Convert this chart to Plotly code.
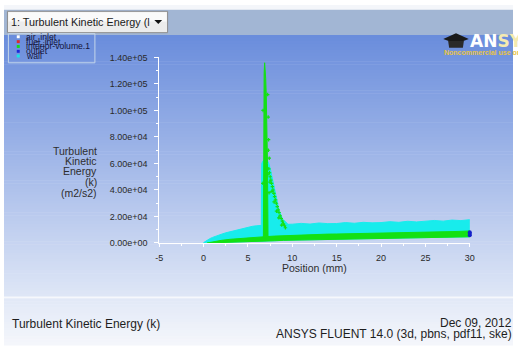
import plotly.graph_objects as go

# ---------------- data ----------------
x_tick_vals = [-5, 0, 5, 10, 15, 20, 25, 30]
x_tick_text = ["-5", "0", "5", "10", "15", "20", "25", "30"]
y_tick_vals = [0, 20000, 40000, 60000, 80000, 100000, 120000, 140000]
y_tick_text = ["0.00e+00", "2.00e+04", "4.00e+04", "6.00e+04", "8.00e+04",
               "1.00e+05", "1.20e+05", "1.40e+05"]

# wall zone (cyan) – envelope of the main point cloud
wall_x = [0.0, 0.3, 0.7, 1.0, 1.5, 2.0, 2.5, 3.0, 3.5, 4.0, 4.5, 5.0, 5.5, 6.0, 6.5, 7.0,
          7.5, 8.0, 8.5, 9.0, 9.5, 10.0,
          11, 12, 13, 14, 15, 16, 17, 18, 19, 20, 21, 22, 23, 24, 25, 26, 27, 28, 29, 30]
wall_upper = [300, 1800, 3300, 4200, 5600, 6600, 7700, 8500, 9600, 10500, 11300, 12000, 12600, 13000,
              13400, 13600, 13800, 14000, 13900, 14200, 14100, 14200,
              14800, 14300, 15100, 14600, 14700, 15400, 14900, 15600, 15200, 15400, 16100, 15600, 16400,
              15900, 16400, 17000, 16500, 17300, 16900, 17600]
wall_lower = [0, 0, 0, 0, 0, 0, 400, 600, 700, 800, 900, 1000, 1100, 1200, 1300, 1400,
              1500, 1700, 1800, 1900, 2100, 2200,
              2400, 2500, 2700, 2800, 3000, 3100, 3200, 3300, 3500, 3600, 3700, 3800, 3900, 4100, 4200,
              4300, 4400, 4500, 4600, 4700]

# wall zone spike outline
wall_spike_x = [6.45, 6.5, 6.52, 6.55, 6.7, 7.0, 7.2, 7.35, 7.55, 7.85, 8.15, 8.5, 8.9, 9.4, 9.8, 6.45]
wall_spike_k = [8000, 14000, 40000, 60000, 62000, 63000, 62000, 60000, 55000, 45000, 35000, 25000,
                18000, 15000, 10000, 8000]

# interior-volume.1 zone (green) – lower band envelope
volume_x = [0.4, 1, 2, 3, 4, 5, 6, 7, 8, 9, 10, 11, 12, 13, 14, 15, 16, 17, 18, 19, 20,
            21, 22, 23, 24, 25, 26, 27, 28, 29, 30]
volume_upper = [0, 800, 2000, 2800, 3400, 3900, 4300, 4800, 5200, 5500, 5900, 6000, 6300, 6400, 6700,
                6800, 6900, 7000, 7200, 7200, 7400, 7500, 7700, 7800, 8000, 8100, 8300, 8400, 8600, 8800, 9100]
volume_lower = [0, 0, 300, 600, 800, 1000, 1200, 1500, 1700, 2000, 2200, 2400, 2500, 2700, 2800,
                3000, 3100, 3200, 3300, 3500, 3600, 3700, 3800, 3900, 4100, 4200, 4300, 4400, 4500, 4600, 4700]

# interior-volume.1 spike outline
spike_x = [6.74, 6.75, 6.76, 6.77, 6.78, 6.82, 6.88, 6.94, 7.0, 7.06, 7.12, 7.16, 7.2, 7.22,
           7.25, 7.26, 6.74]
spike_k = [4000, 30000, 60000, 90000, 115000, 128000, 136000, 132000, 124000, 112000, 95000,
           80000, 60000, 40000, 20000, 4000, 4000]

# interior-volume.1 scattered points right of the spike
tail_x = [7.35, 7.42, 7.5, 7.58, 7.66, 7.75, 7.83, 7.92, 8.0, 8.1, 8.2, 8.3, 8.4, 8.5, 8.62,
          8.75, 8.88, 9.0, 9.12, 9.22, 7.48, 7.7, 7.95, 8.22, 8.48, 8.8, 7.4, 7.3, 7.38,
          7.28, 7.32, 6.7, 7.22, 6.68, 7.26]
tail_k = [56000, 53000, 50000, 47500, 45000, 42500, 40000, 37500, 35000, 32500, 30000, 27500,
          25000, 23000, 20500, 18500, 16500, 14500, 13000, 11500, 46000, 39000, 31000, 24000,
          19000, 13500, 64000, 70000, 38000, 95000, 78000, 100000, 112000, 45000, 52000]

# outlet zone (blue)
outlet_x = [30, 30, 30]
outlet_k = [5800, 7000, 8200]

legend_names = ["air_inlet", "fuel_inlet", "interior-volume.1", "outlet", "wall"]
legend_colors = ["#ffffff", "#e02828", "#14dc14", "#1c28d8", "#18e6e6"]

CYAN = "#18ecec"
GREEN = "#14e014"
FONT = "Liberation Sans, Arial, sans-serif"

W, H = 518, 350


def px(x):
    return x / W


def py(y):
    return 1 - y / H


fig = go.Figure()

fig.add_trace(go.Scatter(x=wall_x + wall_x[::-1], y=wall_upper + wall_lower[::-1],
                         mode="lines", fill="toself", fillcolor=CYAN,
                         line=dict(width=1, color=CYAN), name="wall"))
fig.add_trace(go.Scatter(x=wall_spike_x, y=wall_spike_k,
                         mode="lines", fill="toself", fillcolor=CYAN,
                         line=dict(width=1, color=CYAN), name="wall spike"))
fig.add_trace(go.Scatter(x=volume_x + volume_x[::-1], y=volume_upper + volume_lower[::-1],
                         mode="lines", fill="toself", fillcolor=GREEN,
                         line=dict(width=1, color=GREEN), name="interior-volume.1"))
fig.add_trace(go.Scatter(x=spike_x, y=spike_k, mode="lines", fill="toself",
                         fillcolor=GREEN, line=dict(width=1, color=GREEN)))
fig.add_trace(go.Scatter(x=tail_x, y=tail_k, mode="markers",
                         marker=dict(size=2.5, color=GREEN, symbol="cross-thin",
                                     line=dict(width=1.2, color=GREEN))))
fig.add_trace(go.Scatter(x=outlet_x, y=outlet_k, mode="markers", cliponaxis=False,
                         marker=dict(size=4, color="#1420c8")))

shapes = []
# top strip
shapes.append(dict(type="rect", xref="paper", yref="paper", x0=0, x1=1, y0=py(5), y1=py(0),
                   fillcolor="#f4f6fa", line=dict(width=0), layer="below"))
shapes.append(dict(type="rect", xref="paper", yref="paper", x0=0, x1=1, y0=py(31), y1=py(5),
                   fillcolor="#a2b6d4", line=dict(width=0), layer="below"))
# main gradient background
c0 = (106, 141, 220)
c1 = (222, 230, 246)
top, bot = 31, 300
n = 90
for i in range(n):
    t = i / (n - 1)
    col = tuple(int(round(c0[k] + (c1[k] - c0[k]) * t)) for k in range(3))
    ya = top + (bot - top) * i / n
    yb = top + (bot - top) * (i + 1) / n + 0.6
    shapes.append(dict(type="rect", xref="paper", yref="paper", x0=0, x1=1,
                       y0=py(yb), y1=py(ya), fillcolor="rgb(%d,%d,%d)" % col,
                       line=dict(width=0), layer="below"))
# separator and bottom panel
shapes.append(dict(type="rect", xref="paper", yref="paper", x0=0, x1=1, y0=py(302), y1=py(300),
                   fillcolor="#f6f8fc", line=dict(width=0), layer="below"))
b0 = (226, 233, 247)
b1 = (244, 246, 251)
for i in range(16):
    t = i / 15
    col = tuple(int(round(b0[k] + (b1[k] - b0[k]) * t)) for k in range(3))
    ya = 302 + 48 * i / 16
    yb = 302 + 48 * (i + 1) / 16 + 0.6
    shapes.append(dict(type="rect", xref="paper", yref="paper", x0=0, x1=1,
                       y0=py(yb), y1=py(ya), fillcolor="rgb(%d,%d,%d)" % col,
                       line=dict(width=0), layer="below"))
# dropdown box
shapes.append(dict(type="rect", xref="paper", yref="paper", x0=px(3.5), x1=px(166.5),
                   y0=py(28.5), y1=py(6.5), fillcolor="#ececec", line=dict(width=1, color="#8c8c8c")))
shapes.append(dict(type="rect", xref="paper", yref="paper", x0=px(4.5), x1=px(165.5),
                   y0=py(17), y1=py(7.5), fillcolor="#fafafa", line=dict(width=0)))
shapes.append(dict(type="path", xref="paper", yref="paper",
                   path="M %f,%f L %f,%f L %f,%f Z" % (px(153), py(15.5), px(161), py(15.5), px(157), py(19.5)),
                   fillcolor="#111111", line=dict(width=0)))
# legend box
shapes.append(dict(type="rect", xref="paper", yref="paper", x0=px(4.5), x1=px(92.5),
                   y0=py(59.5), y1=py(29.5), line=dict(width=1, color="#c4d6ea")))
leg_y = [32.7, 37.7, 42.7, 47.7, 52.5]
for yy, cc in zip(leg_y, legend_colors):
    shapes.append(dict(type="rect", xref="paper", yref="paper", x0=px(13), x1=px(16),
                       y0=py(yy + 1.5), y1=py(yy - 1.5), fillcolor=cc, line=dict(width=0)))
# ANSYS cap logo
cap = [(447, 35), (460, 29), (473, 35), (460, 40)]
path = "M " + " L ".join("%f,%f" % (px(a), py(b)) for a, b in cap) + " Z"
shapes.append(dict(type="path", xref="paper", yref="paper", path=path,
                   fillcolor="#1a1a1a", line=dict(width=0)))
shapes.append(dict(type="path", xref="paper", yref="paper",
                   path="M %f,%f L %f,%f L %f,%f L %f,%f Z" % (px(452), py(37), px(468), py(37),
                                                            px(467), py(44), px(453), py(44)),
                   fillcolor="#2a2a2a", line=dict(width=0)))

annotations = []


def ann(text, x, y, size, color="#2a2a2a", xanchor="left", **kw):
    annotations.append(dict(text=text, x=px(x), y=py(y), xref="paper", yref="paper",
                            xanchor=xanchor, yanchor="middle", showarrow=False,
                            font=dict(size=size, color=color, family=kw.pop("family", FONT)),
                            **kw))


ann("1: Turbulent Kinetic Energy (l", 5, 17.5, 10.8, "#1a1a1a")
for yy, name in zip(leg_y, legend_names):
    ann(name, 20.5, yy, 8.6, "#14143a")
for yy, t in zip([150.5, 160.5, 171, 182.5, 193.5],
                 ["Turbulent", "Kinetic", "Energy", "(k)", "(m2/s2)"]):
    ann(t, 97, yy, 10.5, "#2e2e2e", xanchor="right")
ann("Position (mm)", 315.5, 271, 10.5, "#2e2e2e", xanchor="center")
ann("Turbulent Kinetic Energy (k)", 6, 328, 12, "#1e1e1e")
ann("Dec 09, 2012", 519, 327, 12, "#1e1e1e", xanchor="right")
ann("ANSYS FLUENT 14.0 (3d, pbns, pdf11, ske)", 519, 338.5, 12, "#1e1e1e", xanchor="right")
ann('<b><span style="color:#ffffff">AN</span><span style="color:#f4eab0">SYS</span></b>',
    472, 37, 17, "#ffffff", family="DejaVu Sans, sans-serif")
ann("<b>Noncommercial use only</b>", 446, 49, 7, "#e8c446")

fig.update_layout(
    width=W, height=H, margin=dict(l=0, r=0, t=0, b=0),
    paper_bgcolor="rgba(0,0,0,0)", plot_bgcolor="rgba(0,0,0,0)",
    showlegend=False, shapes=shapes, annotations=annotations,
    font=dict(family=FONT, color="#2a2a2a"),
    xaxis=dict(domain=[px(158), px(474)], range=[-5, 30], showgrid=False, zeroline=False,
               showline=True, linecolor="white", linewidth=1, ticks="outside", ticklen=3,
               tickcolor="white", tickvals=x_tick_vals, ticktext=x_tick_text,
               tickfont=dict(size=9, color="#2a2a2a"), ticklabelstandoff=3,
               minor=dict(ticks="outside", ticklen=2, tickcolor="white", dtick=2.5, tick0=0)),
    yaxis=dict(domain=[py(245), py(54)], range=[0, 140000], showgrid=False, zeroline=False,
               showline=True, linecolor="white", linewidth=1, ticks="outside", ticklen=4,
               tickcolor="white", tickvals=y_tick_vals, ticktext=y_tick_text,
               tickfont=dict(size=9, color="#2a2a2a"), ticklabelstandoff=5,
               minor=dict(ticks="outside", ticklen=2, tickcolor="white", dtick=10000, tick0=0)),
)

fig.write_html("out.html", config={"displayModeBar": False},
               post_script="document.body.style.margin='0';document.body.style.overflow='hidden';")
